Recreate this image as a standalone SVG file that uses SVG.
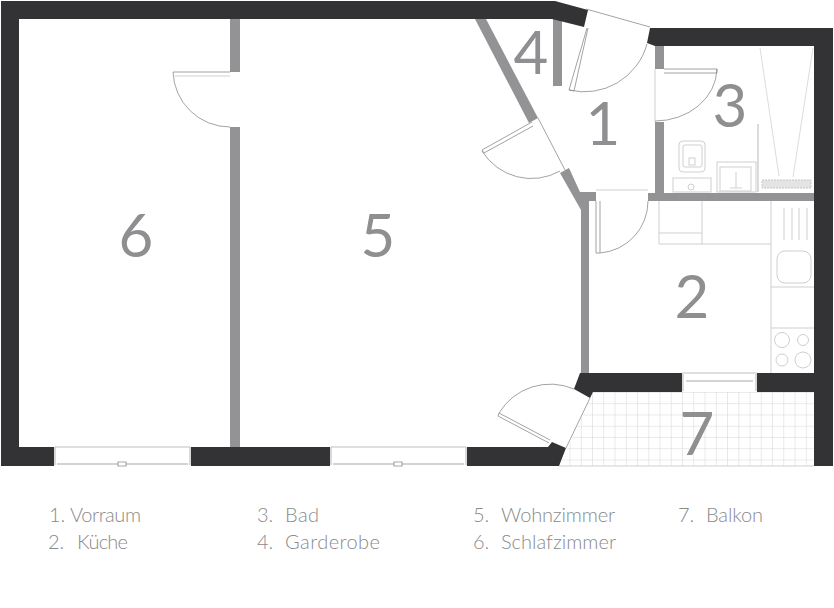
<svg xmlns="http://www.w3.org/2000/svg" width="834" height="608" viewBox="0 0 834 608">
<style>
.d{fill:#333335}.g{fill:#939396}
.t{fill:none;stroke:#8c8c8c;stroke-width:.8}
.l{fill:none;stroke:#cfcfcf;stroke-width:1}
.w{fill:none;stroke:#c0c0c0;stroke-width:1.2}
.m{fill:none;stroke:#a8a8a8;stroke-width:1.2}
.n{font-family:"Lato","Liberation Sans",sans-serif;font-weight:400;font-size:60px;fill:#8f8f92;text-anchor:middle}
.k{font-family:"Lato","Liberation Sans",sans-serif;font-weight:300;font-size:20px;fill:#8a8a8c}
</style>
<defs>
<pattern id="tile" patternUnits="userSpaceOnUse" x="603.3" y="392" width="11.25" height="11.25">
<path d="M0 0V11.25M0 0H11.25" fill="none" stroke="#d4d4d4" stroke-width="1"/>
</pattern>
</defs>
<rect width="834" height="608" fill="#fff"/>
<g id="balcony">
<polygon points="593,392 814,392 814,466 559,466" fill="url(#tile)"/>
<path class="l" d="M559 466H814"/>
</g>
<g id="kitchen-fixtures">
<path class="l" d="M771 201V373M659 244H771M659 201V244M702 201V244M659 233H702M771 287H814M771 328H814M784 208V240M792 208V240M799 208V240M807 208V240"/>
<rect class="l" x="777" y="251" width="34" height="32" rx="8"/>
<circle class="l" cx="782" cy="340" r="7.5"/><circle class="l" cx="803" cy="340" r="5.5"/>
<circle class="l" cx="782" cy="360" r="6"/><circle class="l" cx="803" cy="360" r="8"/>
</g>
<g id="bath-fixtures">
<rect class="l" x="679" y="141" width="26" height="31" rx="4"/>
<rect class="l" x="683" y="145" width="19" height="22" rx="2"/>
<rect class="l" x="689" y="158" width="6" height="7"/>
<rect class="l" x="673" y="178" width="38" height="14"/>
<circle class="l" cx="691" cy="187" r="3"/>
<rect class="l" x="717" y="162" width="39" height="30"/>
<rect class="l" x="720" y="167" width="31" height="24"/>
<path class="l" d="M736 172V188M730 188H742"/>
<path d="M758 124V192" fill="none" stroke="#d2d2d2" stroke-width="1.6"/>
<path d="M760 48L779 176M813 48L793 177" fill="none" stroke="#d8d8d8" stroke-width=".9"/>
<rect x="762" y="180" width="49" height="8" fill="#e4e4e4" stroke="#c4c4c4" stroke-width="1" stroke-dasharray="2 1"/>
</g>
<g id="grey-walls">
<rect class="g" x="230" y="19" width="10" height="53"/>
<rect class="g" x="230" y="127" width="10" height="320"/>
<rect class="g" x="553" y="19" width="9" height="67"/>
<polygon class="g" points="475,19 486,19 538,118 529,123"/>
<polygon class="g" points="560,173 569,168 580,192 596,192 596,201 589,201 589,373 581,373 581,210"/>
<rect class="g" x="648" y="193" width="166" height="8"/>
<rect class="g" x="655" y="46" width="9" height="23"/>
<rect class="g" x="655" y="122" width="9" height="71"/>
</g>
<g id="dark-walls">
<polygon class="d" points="1,1 555,1 588,10 584,27 552,19 19,19 19,447 54,447 54,466 1,466"/>
<polygon class="d" points="650,28 833,28 833,466 814,466 814,46 655,46 647,43"/>
<rect class="d" x="191" y="447" width="139" height="19"/>
<polygon class="d" points="467,447 548,447 552,442 566,448 559,466 467,466"/>
<polygon class="d" points="580,373 682,373 682,392 593,392 590,398 574,389"/>
<rect class="d" x="757" y="373" width="57" height="19"/>
</g>
<g id="windows">
<path class="w" d="M55 447V465M55 447H190M190 447V465M331 447V465M331 447H466M466 447V465M683 374V391M756 374V391M682 373H757"/>
<path class="m" d="M57 464H118M126 464H188M118 462h8v4h-8zM333 464H394M402 464H464M394 462h8v4h-8zM686 381H753"/>
</g>
<g id="doors">
<g id="door-entry">
<path class="t" d="M586 9L650 27M587 28L569 90L574 91L588 28M569 90A65 65 0 0 0 647 44"/>
</g>
<g id="door-bath">
<path class="l" d="M655 69V122"/>
<path class="t" d="M664 69H717V73H664M717 69A62 53 0 0 1 655 121"/>
</g>
<g id="door-living">
<path class="t" d="M538 118L565 170M532 122L482 150L484 153L533 126M482 151A58 58 0 0 0 560 171"/>
</g>
<g id="door-kitchen">
<path class="l" d="M596 190H648"/>
<path class="t" d="M596 201V253H600V201M600 253A52 52 0 0 0 648 201"/>
</g>
<g id="door-balcony">
<path class="t" d="M590 398L566 448M550 440L499 413L498 416L549 443M499 413A60 60 0 0 1 574 389"/>
</g>
<g id="door-bedroom">
<path class="t" d="M230 72H173M173 72A57 57 0 0 0 230 127"/>
<path class="l" d="M175 76H230"/>
</g>
</g>
<g id="room-numbers">
<text class="n" x="603" y="145">1</text>
<text class="n" x="692" y="318">2</text>
<text class="n" x="730" y="127">3</text>
<text class="n" x="531" y="74">4</text>
<text class="n" x="378" y="257">5</text>
<text class="n" x="136" y="257">6</text>
<text class="n" x="697" y="455">7</text>
</g>
<g id="legend">
<text class="k" y="522"><tspan x="49">1.</tspan> <tspan x="70" textLength="71">Vorraum</tspan></text>
<text class="k" y="549"><tspan x="48">2.</tspan> <tspan x="77" textLength="51">Küche</tspan></text>
<text class="k" y="522"><tspan x="257">3.</tspan> <tspan x="285" textLength="34">Bad</tspan></text>
<text class="k" y="549"><tspan x="257">4.</tspan> <tspan x="285" textLength="95">Garderobe</tspan></text>
<text class="k" y="522"><tspan x="473">5.</tspan> <tspan x="501" textLength="114">Wohnzimmer</tspan></text>
<text class="k" y="549"><tspan x="473">6.</tspan> <tspan x="501" textLength="115">Schlafzimmer</tspan></text>
<text class="k" y="522"><tspan x="678">7.</tspan> <tspan x="706" textLength="57">Balkon</tspan></text>
</g>
</svg>
